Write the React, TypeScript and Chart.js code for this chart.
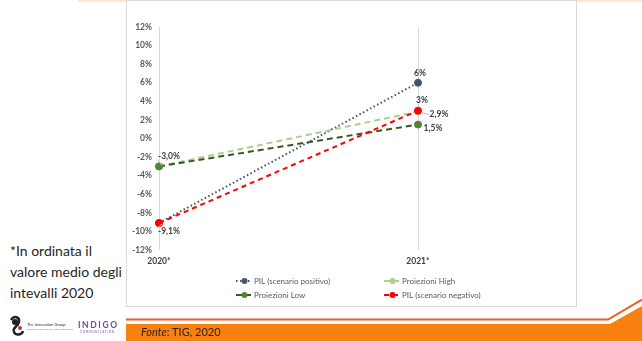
import React, { useEffect, useRef } from "react";
import { Chart, registerables } from "chart.js";

Chart.register(...registerables);

const categories = ["2020*", "2021*"];
const pilPositivo = [-9.1, 6];
const proiezioniHigh = [-3.0, 2.9];
const proiezioniLow = [-3.0, 1.5];
const pilNegativo = [-9.1, 3];
const yTickMin = -12;
const yTickMax = 12;
const yTickStep = 2;

const seriesNames = [
  "PIL (scenario positivo)",
  "Proiezioni High",
  "Proiezioni Low",
  "PIL (scenario negativo)",
];

// which points carry a value label (dataset index, point index, decimals)
const labelSpecs = [
  { ds: 2, i: 0, dec: 1, dx: 10, dy: -10, leader: true },
  { ds: 3, i: 0, dec: 1, dx: 10, dy: 8, leader: true },
  { ds: 0, i: 1, dec: 0, dx: 2, dy: -9, leader: false },
  { ds: 3, i: 1, dec: 0, dx: 4, dy: -10, leader: false },
  { ds: 1, i: 1, dec: 1, dx: 21, dy: 3, leader: true },
  { ds: 2, i: 1, dec: 1, dx: 15, dy: 4, leader: false },
];

const fmt = (v: number, dec: number) => v.toFixed(dec).replace(".", ",") + "%";

const FONT = "Lato, 'Open Sans', sans-serif";

const dataLabelPlugin = {
  id: "dataLabels",
  afterDatasetsDraw(chart: any) {
    const ctx = chart.ctx;
    ctx.save();
    ctx.font = `bold 8.5px ${FONT}`;
    ctx.textAlign = "center";
    ctx.textBaseline = "middle";
    for (const s of labelSpecs) {
      const meta = chart.getDatasetMeta(s.ds);
      const pt = meta.data[s.i];
      const v = chart.data.datasets[s.ds].data[s.i] as number;
      const x = pt.x + s.dx;
      const y = pt.y + s.dy;
      const text = fmt(v, s.dec);
      if (s.leader) {
        const w = ctx.measureText(text).width;
        ctx.strokeStyle = "#bfbfbf";
        ctx.lineWidth = 1;
        ctx.beginPath();
        const tx = s.dx > 0 ? x - w / 2 - 1 : x + w / 2 + 1;
        const ty = s.dy < 0 ? y + 3 : s.dy > 5 ? y - 3 : y;
        ctx.moveTo(pt.x + (s.dx > 0 ? 3 : -3), pt.y + (s.dy < 0 ? -1 : 1));
        ctx.lineTo(tx, ty);
        ctx.stroke();
      }
      ctx.fillStyle = "#404040";
      ctx.fillText(text, x, y);
    }
    ctx.restore();
  },
};

const legendPlugin = {
  id: "customLegend",
  afterDraw(chart: any) {
    const ctx = chart.ctx;
    const left = chart.chartArea.left;
    const bottom = chart.chartArea.bottom;
    const cols = [left + 77, left + 225];
    const rows = [bottom + 31, bottom + 45];
    ctx.save();
    ctx.font = `8px ${FONT}`;
    ctx.textBaseline = "middle";
    ctx.textAlign = "left";
    chart.data.datasets.forEach((ds: any, k: number) => {
      const x = cols[k % 2];
      const y = rows[Math.floor(k / 2)];
      ctx.strokeStyle = ds.borderColor;
      ctx.lineWidth = 2;
      ctx.setLineDash(ds.borderDash || []);
      ctx.beginPath();
      ctx.moveTo(x, y);
      ctx.lineTo(x + 15, y);
      ctx.stroke();
      ctx.setLineDash([]);
      ctx.fillStyle = ds.pointBackgroundColor;
      ctx.beginPath();
      ctx.arc(x + 8.5, y, 3, 0, Math.PI * 2);
      ctx.fill();
      ctx.fillStyle = "#595959";
      ctx.fillText(ds.label, x + 18, y);
    });
    ctx.restore();
  },
};

function ChartCanvas() {
  const ref = useRef<HTMLCanvasElement>(null);
  useEffect(() => {
    if (!ref.current) return;
    const common = { borderWidth: 2, pointRadius: 3.5, pointBorderWidth: 1 };
    const chart = new Chart(ref.current, {
      type: "line",
      data: {
        labels: categories,
        datasets: [
          {
            label: seriesNames[0],
            data: pilPositivo,
            borderColor: "#44546A",
            backgroundColor: "#44546A",
            pointBackgroundColor: "#44546A",
            pointBorderColor: "#44546A",
            borderDash: [1.5, 2.5],
            ...common,
            order: 4,
          },
          {
            label: seriesNames[1],
            data: proiezioniHigh,
            borderColor: "#A9D18E",
            backgroundColor: "#A9D18E",
            pointBackgroundColor: "#A9D18E",
            pointBorderColor: "#A9D18E",
            borderDash: [6, 4],
            ...common,
            order: 3,
          },
          {
            label: seriesNames[2],
            data: proiezioniLow,
            borderColor: "#385723",
            backgroundColor: "#548235",
            pointBackgroundColor: "#548235",
            pointBorderColor: "#548235",
            borderDash: [6, 4],
            ...common,
            order: 2,
          },
          {
            label: seriesNames[3],
            data: pilNegativo,
            borderColor: "#FF0000",
            backgroundColor: "#FF0000",
            pointBackgroundColor: "#FF0000",
            pointBorderColor: "#FF0000",
            borderDash: [5, 4],
            ...common,
            order: 1,
          },
        ],
      },
      options: {
        responsive: false,
        animation: false,
        layout: { padding: { top: 26, right: 158, left: 0, bottom: 0 } },
        plugins: { legend: { display: false }, tooltip: { enabled: false } },
        scales: {
          x: {
            type: "category",
            offset: false,
            grid: { display: true, color: "#d9d9d9", lineWidth: 1, drawTicks: false },
            border: { display: false },
            ticks: {
              padding: 6,
              color: "#404040",
              font: { family: FONT, size: 8.5, weight: "bold" },
              maxRotation: 0,
            },
            afterFit: (s: any) => {
              s.height = 56;
            },
          },
          y: {
            min: yTickMin,
            max: yTickMax,
            grid: { display: false, drawTicks: false },
            border: { display: false },
            ticks: {
              stepSize: yTickStep,
              padding: 7,
              color: "#595959",
              font: { family: FONT, size: 8.5, weight: "bold" },
              callback: (v: any) => v + "%",
            },
            afterFit: (s: any) => {
              s.width = 32;
            },
          },
        },
      },
      plugins: [dataLabelPlugin, legendPlugin],
    } as any);
    return () => chart.destroy();
  }, []);
  return (
    <canvas
      ref={ref}
      width={449}
      height={305}
      style={{ position: "absolute", left: 127, top: 1, width: 449, height: 305 }}
    />
  );
}

export default function App() {
  return (
    <div
      style={{
        position: "absolute",
        left: 0,
        top: 0,
        width: 642,
        height: 341,
        background: "#ffffff",
        overflow: "hidden",
        fontFamily: FONT,
      }}
    >
      <div style={{ position: "absolute", left: 78, top: 0, width: 564, height: 2, background: "#FCE4D6" }} />
      <div
        style={{
          position: "absolute",
          left: 126,
          top: 0,
          width: 449,
          height: 305,
          border: "1px solid #d9d9d9",
          background: "#fff",
        }}
      />
      <ChartCanvas />
      <div
        style={{
          position: "absolute",
          left: 10,
          top: 240,
          fontSize: 14,
          lineHeight: "21px",
          color: "#262626",
          fontFamily: FONT,
        }}
      >
        *In ordinata il
        <br />
        valore medio degli
        <br />
        intevalli 2020
      </div>
      <svg width={642} height={341} style={{ position: "absolute", left: 0, top: 0 }}>
        <polygon points="126,324 610,324 642,306 642,341 126,341" fill="#F7800F" />
        <polyline points="126,319.5 608,319.5 642,299.5" fill="none" stroke="#EE5A24" strokeWidth={2} />
        <circle cx={15} cy={322} r={3} fill="#222" />
        <path d="M11,320 C14,315 20,317 19,322 C18,327 12,327 14,332 C16,336 22,335 23,331" stroke="#222" strokeWidth={2.5} fill="none" />
        <circle cx={20} cy={328} r={2} fill="#c0392b" />
        <text x={27} y={326} fontSize={4} fill="#333" fontFamily={FONT}>The Innovation Group</text>
        <text x={27} y={330} fontSize={2.5} fill="#888" fontFamily={FONT}>strategic consulting and digital intelligence</text>
        <text x={78} y={328} fontSize={8.5} fontWeight="bold" fill="#6B4BA1" letterSpacing={1.6} fontFamily={FONT}>INDIGO</text>
        <text x={80} y={333} fontSize={2.8} fill="#6B4BA1" letterSpacing={0.8} fontFamily={FONT}>COMMUNICATION</text>
        <text x={141} y={336} fontSize={11} fill="#262626" fontFamily={FONT}>
          <tspan fontStyle="italic">Fonte</tspan>: TIG, 2020
        </text>
      </svg>
    </div>
  );
}
